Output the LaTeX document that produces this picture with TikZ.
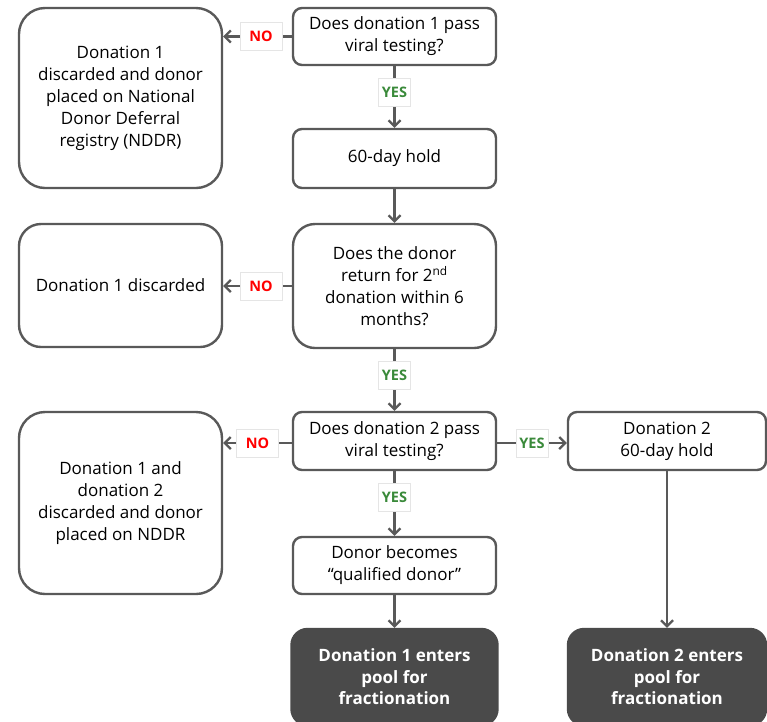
\documentclass[tikz,border=0pt]{standalone}
\usepackage{fontspec}
\setmainfont{Open Sans}
\usetikzlibrary{arrows.meta}
\definecolor{ln}{HTML}{595959}
\definecolor{dk}{HTML}{4A4A4A}
\definecolor{noc}{HTML}{FF0000}
\definecolor{yesc}{HTML}{3A8A3A}
\begin{document}
\begin{tikzpicture}[x=1pt,y=-1pt,
  box/.style={draw=ln, line width=2.4pt, rounded corners=9pt, fill=white, align=center,
    inner sep=0pt, font=\fontsize{17}{22}\selectfont},
  bigbox/.style={box, rounded corners=26pt},
  midbox/.style={box, rounded corners=22pt},
  darkbox/.style={box, fill=dk, draw=dk, text=white, rounded corners=16pt,
    font=\fontsize{17}{21.5}\selectfont\bfseries},
  arr/.style={draw=ln, line width=2.4pt, -{Straight Barb[length=6pt,width=12pt,line width=2.2pt]}},
  lab/.style={fill=white, draw=black!10, line width=0.5pt, inner sep=0pt,
    minimum height=28pt, font=\fontsize{14.5}{16}\selectfont\bfseries},
  nolab/.style={lab, text=noc, minimum width=42pt},
  yeslab/.style={lab, text=yesc, minimum width=32pt}
]
\useasboundingbox (0,0) rectangle (767,721);
\fill[white] (0,0) rectangle (767,721);

\node[bigbox, minimum width=203pt, minimum height=180pt] (A) at (120.5,98)
  {Donation 1\\discarded and donor\\placed on National\\Donor Deferral\\registry (NDDR)};
\node[box, minimum width=203pt, minimum height=57pt] (Q1) at (394.5,36.5)
  {Does donation 1 pass\\viral testing?};
\node[box, minimum width=203pt, minimum height=59pt] (H1) at (394.5,158.5)
  {60-day hold};
\node[midbox, minimum width=203pt, minimum height=124pt] (Q2) at (394.5,286)
  {Does the donor\\return for 2\textsuperscript{nd}\\donation within 6\\months?};
\node[midbox, minimum width=203pt, minimum height=123pt] (D1) at (120.5,285.5)
  {Donation 1 discarded};
\node[box, minimum width=203pt, minimum height=58pt] (Q3) at (394.5,441)
  {Does donation 2 pass\\viral testing?};
\node[bigbox, minimum width=203pt, minimum height=182pt] (C) at (120.5,503)
  {Donation 1 and\\donation 2\\discarded and donor\\placed on NDDR};
\node[box, minimum width=198pt, minimum height=58pt] (H2) at (667,441)
  {Donation 2\\60-day hold};
\node[box, minimum width=203pt, minimum height=57pt] (QD) at (394.5,565.5)
  {Donor becomes\\“qualified donor”};
\node[darkbox, minimum width=206pt, minimum height=96pt] (P1) at (394.5,677)
  {Donation 1 enters\\pool for\\fractionation};
\node[darkbox, minimum width=198pt, minimum height=96pt] (P2) at (667,677)
  {Donation 2 enters\\pool for\\fractionation};

\draw[arr] (Q1.west) -- (Q1.west -| A.east) node[nolab, pos=0.45] (n1) {NO};
\draw[arr] (Q1.south) -- (H1.north) node[yeslab, pos=0.42] (y1) {YES};
\draw[arr] (H1.south) -- (Q2.north);
\draw[arr] (Q2.west) -- (Q2.west -| D1.east) node[nolab, pos=0.45] (n2) {NO};
\draw[arr] (Q2.south) -- (Q3.north) node[yeslab, pos=0.42] (y2) {YES};
\draw[arr] ([yshift=-2pt]Q3.west) -- ([yshift=-2pt]Q3.west -| C.east) node[nolab, pos=0.5] (n3) {NO};
\draw[arr] ([yshift=-2pt]Q3.east) -- ([yshift=-2pt]Q3.east -| H2.west) node[yeslab, pos=0.5] (y3) {YES};
\draw[arr] (Q3.south) -- (QD.north) node[yeslab, pos=0.41] (y4) {YES};
\draw[arr] (QD.south) -- (P1.north);
\draw[arr] (H2.south) -- (P2.north);
\end{tikzpicture}
\end{document}
